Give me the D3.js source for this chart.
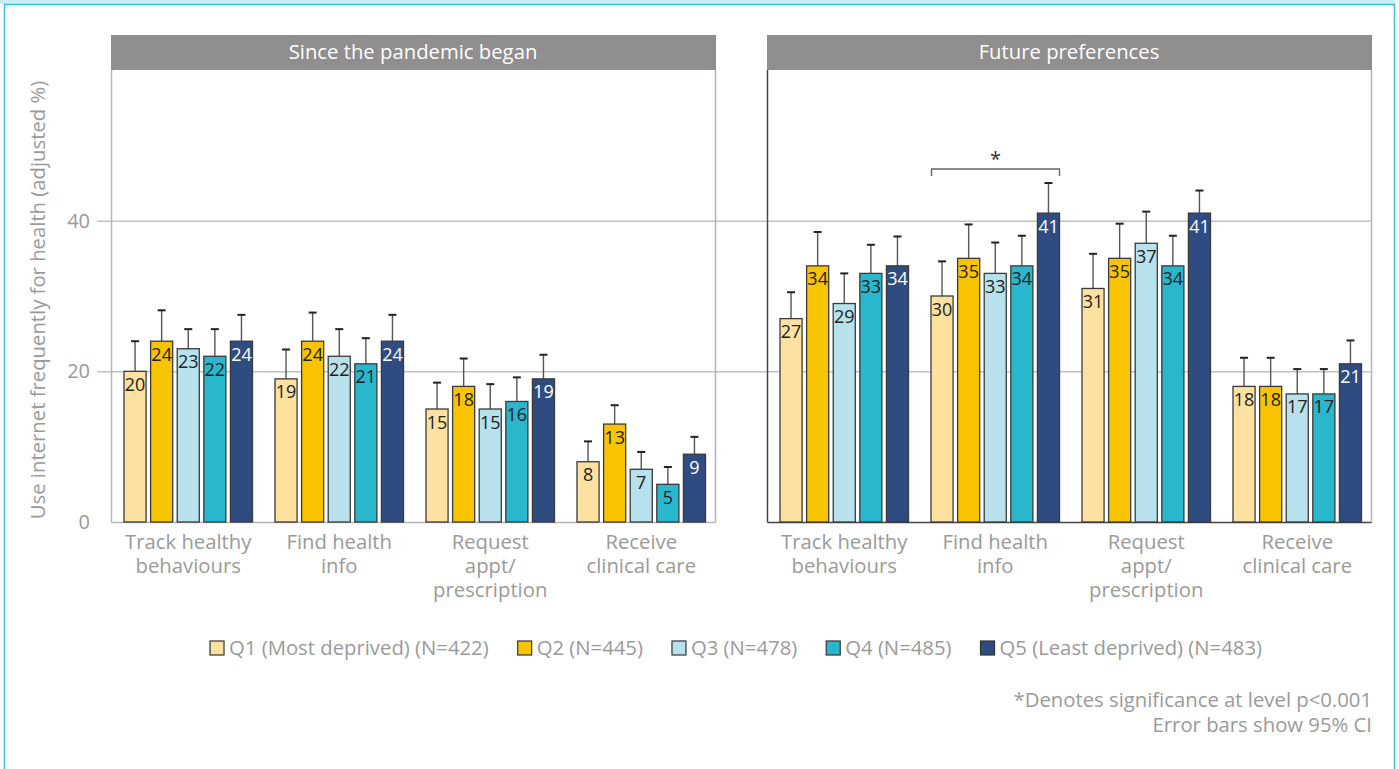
<!DOCTYPE html>
<html>
<head>
<meta charset="utf-8">
<script src="https://cdnjs.cloudflare.com/ajax/libs/d3/7.8.5/d3.min.js"></script>
<style>
  html, body { margin: 0; padding: 0; background: #fff; }
  svg { display: block; font-family: "Open Sans", "Noto Sans", sans-serif; }
</style>
</head>
<body>
<svg id="chart" width="1399" height="769"></svg>
<script>
// ---- data ----
const panels = ["Since the pandemic began", "Future preferences"];
const categories = [
  ["Track healthy", "behaviours"],
  ["Find health", "info"],
  ["Request", "appt/", "prescription"],
  ["Receive", "clinical care"]
];
const quintiles = [
  "Q1 (Most deprived) (N=422)",
  "Q2 (N=445)",
  "Q3 (N=478)",
  "Q4 (N=485)",
  "Q5 (Least deprived) (N=483)"
];
const quintileColors = ["#fde1a0", "#f8c400", "#b7e1ec", "#28b7cd", "#2f4c80"];
const labelColors = ["#222", "#222", "#222", "#222", "#fff"];

// adjusted % per category (rows) and quintile (columns)
const sinceValues = [
  [20, 24, 23, 22, 24],
  [19, 24, 22, 21, 24],
  [15, 18, 15, 16, 19],
  [8, 13, 7, 5, 9]
];
const sinceUpperCI = [
  [24.0, 28.1, 25.6, 25.6, 27.5],
  [22.9, 27.8, 25.6, 24.4, 27.5],
  [18.5, 21.7, 18.3, 19.2, 22.2],
  [10.7, 15.5, 9.3, 7.3, 11.3]
];
const futureValues = [
  [27, 34, 29, 33, 34],
  [30, 35, 33, 34, 41],
  [31, 35, 37, 34, 41],
  [18, 18, 17, 17, 21]
];
const futureUpperCI = [
  [30.5, 38.5, 33.0, 36.8, 37.9],
  [34.6, 39.5, 37.1, 38.0, 45.0],
  [35.6, 39.6, 41.2, 38.0, 44.0],
  [21.8, 21.8, 20.3, 20.3, 24.1]
];
const yTicks = [0, 20, 40];
const yTitle = "Use internet frequently for health (adjusted %)";
// significant difference: panel 1, category 1, Q1 vs Q5
const significance = { panel: 1, category: 1, from: 0, to: 4, mark: "*" };
const footnotes = ["*Denotes significance at level p<0.001", "Error bars show 95% CI"];

// ---- layout ----
const svg = d3.select("#chart");
const gray = "#9a9a9a";
const textSize = 20.3;
const plotTop = 70, plotBottom = 522;
const panelX = [111, 767];
const panelW = 604;
const gridLeft = 97, gridRight = panelX[1] + panelW + 1;

// outer frame
svg.append("rect").attr("x", 0).attr("y", 0).attr("width", 1395).attr("height", 4)
  .attr("fill", "#c9eef4");
svg.append("rect").attr("x", 4.5).attr("y", 4.5).attr("width", 1390).attr("height", 800)
  .attr("fill", "none").attr("stroke", "#3fc1d8").attr("stroke-width", 1.5);

const y = d3.scaleLinear().domain([0, 60]).range([plotBottom, plotTop]);

// gridlines + y tick labels
const yAxis = d3.axisLeft(y).tickValues(yTicks)
  .tickSizeInner(-(gridRight - gridLeft)).tickSizeOuter(0).tickPadding(7);
const yg = svg.append("g").attr("transform", `translate(${gridLeft},0)`).call(yAxis);
yg.select(".domain").remove();
yg.selectAll(".tick line").attr("stroke", "#a5a5a5").attr("stroke-width", 1)
  .filter(d => d === 0).remove();
yg.selectAll(".tick text").attr("fill", gray).attr("font-size", 20)
  .attr("font-family", "Open Sans, sans-serif");

// y title
svg.append("text")
  .attr("transform", "translate(45,300) rotate(-90)")
  .attr("text-anchor", "middle").attr("fill", gray).attr("font-size", textSize)
  .text(yTitle);

const x1 = d3.scaleBand().domain(d3.range(quintiles.length)).range([13, 141.5]).paddingInner(0.17);
const panelData = [
  { values: sinceValues, upper: sinceUpperCI },
  { values: futureValues, upper: futureUpperCI }
];

panels.forEach((title, p) => {
  const x0 = d3.scaleBand().domain(d3.range(categories.length))
    .range([panelX[p], panelX[p] + panelW]);
  const g = svg.append("g");

  // header strip
  g.append("rect").attr("x", panelX[p]).attr("y", 35).attr("width", panelW + 1).attr("height", plotTop - 35)
    .attr("fill", "#908e8e");
  g.append("text").attr("x", panelX[p] + panelW / 2).attr("y", 59)
    .attr("text-anchor", "middle").attr("fill", "#fff").attr("font-size", textSize).text(title);

  // panel frame
  const left = panelX[p] + 0.5, right = panelX[p] + panelW + 0.5;
  g.append("line").attr("x1", right).attr("x2", right).attr("y1", plotTop).attr("y2", plotBottom + 0.5)
    .attr("stroke", "#b5b5b5").attr("stroke-width", 1.5);
  const axisCol = p === 0 ? "#b5b5b5" : "#444";
  g.append("line").attr("x1", left).attr("x2", left).attr("y1", plotTop).attr("y2", plotBottom + 0.5)
    .attr("stroke", axisCol).attr("stroke-width", 1.5);
  g.append("line").attr("x1", left).attr("x2", right).attr("y1", plotBottom + 0.5).attr("y2", plotBottom + 0.5)
    .attr("stroke", axisCol).attr("stroke-width", 1.5);

  const { values, upper } = panelData[p];
  categories.forEach((cat, c) => {
    const cg = g.append("g").attr("transform", `translate(${x0(c)},0)`);
    const rows = values[c].map((v, q) => ({ v, q, up: upper[c][q] }));

    // error bars (upper half)
    const eb = cg.selectAll(".eb").data(rows).join("g");
    eb.append("line")
      .attr("x1", d => x1(d.q) + x1.bandwidth() / 2).attr("x2", d => x1(d.q) + x1.bandwidth() / 2)
      .attr("y1", d => y(d.v)).attr("y2", d => y(d.up))
      .attr("stroke", "#555").attr("stroke-width", 1.4);
    eb.append("line")
      .attr("x1", d => x1(d.q) + x1.bandwidth() / 2 - 4).attr("x2", d => x1(d.q) + x1.bandwidth() / 2 + 4)
      .attr("y1", d => y(d.up)).attr("y2", d => y(d.up))
      .attr("stroke", "#222").attr("stroke-width", 2);

    // bars
    cg.selectAll(".bar").data(rows).join("rect")
      .attr("x", d => x1(d.q)).attr("width", x1.bandwidth())
      .attr("y", d => y(d.v)).attr("height", d => y(0) - y(d.v))
      .attr("fill", d => quintileColors[d.q])
      .attr("stroke", "#3a3a3a").attr("stroke-width", 1.3);

    // value labels
    cg.selectAll(".lbl").data(rows).join("text")
      .attr("x", d => x1(d.q) + x1.bandwidth() / 2).attr("y", d => y(d.v) + 19.5)
      .attr("text-anchor", "middle").attr("font-size", 18)
      .attr("fill", d => labelColors[d.q]).text(d => d.v);

    // category label
    const cx = (x1.range()[0] + x1.range()[1]) / 2;
    const t = cg.append("text").attr("text-anchor", "middle").attr("fill", gray).attr("font-size", textSize);
    cat.forEach((line, i) => {
      t.append("tspan").attr("x", cx).attr("y", 549 + i * 24).text(line);
    });

    // significance bracket
    if (significance.panel === p && significance.category === c) {
      const xa = x1(significance.from) + 0.5;
      const xb = x1(significance.to) + x1.bandwidth();
      const top = y(d3.max(rows, d => d.up)) - 14;
      cg.append("path")
        .attr("d", `M${xa},${top + 7}V${top}H${xb}V${top + 7}`)
        .attr("fill", "none").attr("stroke", "#666").attr("stroke-width", 1.4);
      cg.append("text").attr("x", (xa + xb) / 2).attr("y", top - 3)
        .attr("text-anchor", "middle").attr("font-size", 20).attr("fill", "#333")
        .text(significance.mark);
    }
  });
});

// legend
const legend = svg.append("g");
const items = legend.selectAll("g").data(quintiles).join("g");
items.append("rect").attr("x", 0).attr("y", 641).attr("width", 14).attr("height", 14)
  .attr("fill", (d, i) => quintileColors[i]).attr("stroke", "#333").attr("stroke-width", 1.2);
items.append("text").attr("x", 19).attr("y", 655).attr("fill", gray).attr("font-size", textSize).text(d => d);
let cursor = 0;
items.each(function () {
  const w = this.getBBox().width;
  d3.select(this).attr("transform", `translate(${cursor},0)`);
  cursor += w + 29;
});
const legendW = cursor - 29;
legend.attr("transform", `translate(${736 - legendW / 2},0)`);

// footnotes
svg.append("g").selectAll("text").data(footnotes).join("text")
  .attr("x", 1372).attr("y", (d, i) => 707 + i * 25)
  .attr("text-anchor", "end").attr("fill", gray).attr("font-size", textSize).text(d => d);
</script>
</body>
</html>
